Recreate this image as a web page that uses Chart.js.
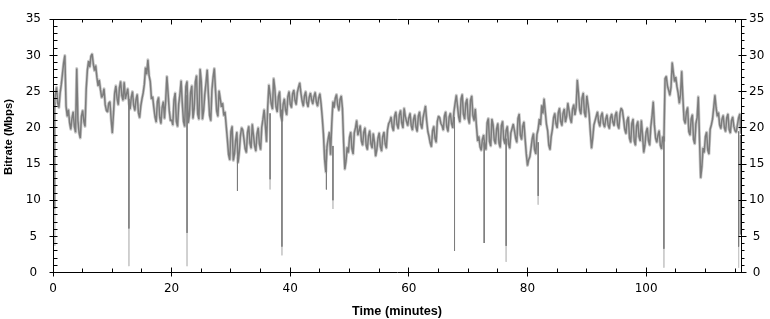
<!DOCTYPE html>
<html>
<head>
<meta charset="utf-8">
<style>
  html, body { margin: 0; padding: 0; background: #fff; }
  #chart { display: block; }
</style>
</head>
<body>
<canvas id="chart" width="770" height="319"></canvas>
<script src="https://cdn.jsdelivr.net/npm/chart.js@4/dist/chart.umd.min.js"></script>
<script>
// one reading every 0.2 minutes
const stepMinutes = 0.2;
const bitrate = [
  23.8, 22.9, 24.6, 25.6, 23.4, 22.8, 24.8, 26.0, 27.5, 29.0, 30.0, 23.0, 21.6, 22.5, 20.7, 19.8, 21.3, 22.2, 20.2, 19.4,
  28.2, 21.0, 19.3, 18.6, 21.6, 22.4, 20.9, 20.2, 25.4, 28.0, 29.2, 28.4, 29.9, 30.2, 28.8, 27.9, 28.6, 27.0, 25.8, 26.6,
  25.3, 24.2, 24.5, 25.4, 23.2, 22.4, 22.2, 23.4, 23.6, 21.2, 19.3, 22.0, 24.8, 25.8, 24.1, 23.2, 25.5, 26.4, 24.5, 23.8,
  26.3, 24.0, 24.7, 25.4, 23.4, 22.6, 24.2, 25.0, 23.1, 22.4, 23.9, 24.6, 22.1, 21.4, 23.0, 24.0, 24.8, 26.0, 28.3, 27.4,
  29.4, 27.2, 26.4, 24.0, 24.3, 22.8, 21.5, 20.8, 23.6, 24.2, 21.4, 20.6, 22.8, 23.6, 21.3, 23.8, 27.1, 24.8, 22.4, 21.0,
  21.1, 20.4, 23.9, 24.8, 20.9, 20.2, 23.3, 24.6, 26.5, 23.4, 20.9, 20.2, 25.7, 26.4, 20.7, 21.8, 24.9, 25.8, 21.3, 22.6,
  26.3, 27.2, 21.9, 21.2, 28.1, 26.4, 21.2, 22.4, 24.7, 26.2, 28.0, 24.6, 21.7, 21.0, 25.3, 27.0, 28.2, 25.2, 22.3, 21.6,
  25.1, 24.0, 22.9, 23.4, 21.7, 22.2, 20.3, 18.4, 16.3, 15.6, 19.5, 20.2, 15.5, 16.4, 18.3, 19.4, 15.2, 16.6, 18.9, 20.0,
  19.7, 18.4, 17.1, 16.6, 19.4, 20.2, 17.9, 17.2, 20.5, 19.0, 17.5, 16.8, 19.2, 20.0, 17.8, 17.0, 20.1, 21.2, 22.5, 20.4,
  18.1, 22.8, 25.9, 24.6, 23.3, 22.6, 26.8, 25.4, 22.9, 22.2, 24.3, 25.0, 21.7, 21.0, 23.2, 24.0, 22.5, 21.8, 24.3, 25.0,
  23.3, 22.8, 24.7, 25.2, 23.8, 23.2, 24.9, 25.6, 26.2, 24.8, 23.7, 23.0, 24.4, 25.0, 23.5, 22.9, 24.2, 24.8, 23.9, 23.3,
  24.3, 24.9, 23.6, 23.0, 24.1, 24.7, 23.3, 21.4, 19.1, 15.6, 13.9, 17.4, 18.5, 19.4, 16.3, 20.6, 23.6, 22.8, 24.1, 24.6,
  23.1, 22.4, 23.9, 24.4, 22.7, 18.0, 14.3, 15.4, 17.3, 16.6, 18.7, 19.4, 17.1, 16.4, 19.3, 20.0, 21.0, 19.0, 19.6, 20.3,
  18.2, 17.6, 19.4, 20.0, 17.6, 17.0, 18.9, 19.6, 17.8, 17.2, 19.2, 18.0, 16.1, 17.0, 18.6, 19.3, 17.4, 16.8, 18.8, 19.4,
  17.8, 17.2, 19.7, 20.6, 20.9, 21.5, 20.1, 19.6, 21.6, 22.2, 20.5, 19.9, 21.8, 22.4, 20.7, 20.0, 22.7, 21.6, 20.9, 20.3,
  21.4, 22.0, 20.3, 19.7, 21.2, 21.8, 20.1, 19.5, 21.6, 22.2, 20.5, 19.9, 21.4, 22.2, 23.0, 21.0, 19.5, 18.8, 17.9, 17.4,
  19.6, 20.2, 18.6, 18.0, 20.9, 21.6, 21.4, 20.6, 20.3, 19.7, 21.6, 22.2, 20.1, 19.5, 21.5, 22.0, 20.6, 20.0, 22.2, 23.4,
  24.5, 23.0, 21.5, 20.8, 24.0, 24.6, 21.9, 21.2, 23.4, 24.0, 21.3, 20.6, 23.8, 24.4, 21.7, 21.0, 22.6, 20.2, 18.2, 18.8,
  17.4, 16.9, 18.4, 19.0, 17.5, 17.0, 20.7, 21.3, 18.1, 17.5, 21.2, 20.4, 18.3, 17.8, 19.9, 20.6, 17.9, 17.3, 20.3, 20.9,
  18.4, 17.8, 19.6, 20.2, 17.8, 17.2, 19.3, 19.9, 20.5, 19.6, 18.6, 18.0, 21.3, 21.9, 19.0, 18.4, 20.2, 20.8, 18.5, 16.4,
  14.8, 15.6, 16.0, 17.2, 18.5, 19.2, 17.0, 16.4, 19.1, 19.8, 21.2, 20.4, 23.1, 22.0, 24.0, 22.2, 20.5, 19.6, 17.6, 17.0,
  18.8, 19.8, 21.4, 22.0, 20.6, 20.0, 22.1, 22.7, 20.9, 20.3, 22.0, 22.6, 20.8, 21.6, 23.4, 22.4, 21.3, 20.7, 22.6, 23.2,
  21.8, 22.8, 26.6, 24.8, 22.5, 21.9, 24.1, 24.8, 22.1, 21.5, 24.4, 23.2, 21.9, 19.4, 17.2, 18.6, 20.4, 21.0, 21.6, 22.2,
  20.8, 20.2, 21.6, 22.1, 20.6, 20.1, 21.2, 21.8, 20.4, 19.9, 21.4, 21.9, 20.8, 20.3, 21.7, 22.2, 20.4, 19.9, 22.0, 22.7,
  22.4, 21.2, 19.8, 19.2, 21.0, 21.5, 18.6, 18.0, 20.6, 21.2, 18.2, 17.6, 20.3, 20.9, 18.8, 18.2, 21.0, 19.0, 16.6, 17.6,
  19.4, 20.0, 18.2, 17.6, 20.2, 21.6, 23.6, 20.4, 18.6, 18.0, 19.0, 19.6, 17.6, 17.1, 18.8, 18.2, 26.8, 27.1, 25.8, 25.2,
  24.5, 25.6, 29.0, 27.6, 26.4, 27.0, 25.7, 24.8, 23.4, 24.6, 27.8, 24.2, 21.1, 20.6, 22.2, 22.8, 19.5, 19.0, 21.2, 21.8,
  18.4, 17.8, 20.6, 21.4, 24.3, 18.6, 13.1, 14.6, 17.2, 16.6, 18.8, 19.4, 16.9, 16.4, 19.8, 20.4, 21.2, 22.8, 24.5, 22.8,
  21.6, 22.1, 20.4, 19.9, 21.2, 21.7, 20.0, 19.5, 21.4, 21.9, 19.8, 19.3, 21.0, 21.5, 20.2, 19.6, 19.4, 20.4, 21.4, 21.9,
  19.2
];

// short dropouts: time, level before, darkest reading, faint tail
const dropMinutes = [0.3, 12.8, 22.6, 31.1, 36.6, 38.6, 46.1, 47.2, 67.7, 72.7, 76.4, 81.8, 103.0, 115.6, 115.9];
const dropFrom = [23.5, 24.0, 24.5, 16.0, 22.0, 22.5, 17.0, 17.5, 21.5, 18.0, 18.5, 18.0, 18.8, 19.5, 19.0];
const dropDark = [8.8, 6.1, 5.5, 11.3, 12.9, 3.6, 11.5, 10.0, 3.0, 4.1, 3.7, 10.6, 3.3, 3.6, 5.3];
const dropLight = [3.7, 0.9, 0.9, 11.3, 11.5, 2.4, 11.5, 8.8, 3.0, 4.1, 1.5, 9.4, 0.7, 0.7, 5.3];

const xTicks = [0, 20, 40, 60, 80, 100];
const xMinorTicks = [5, 10, 15, 25, 30, 35, 45, 50, 55, 65, 70, 75, 85, 90, 95, 105, 110, 115];
const yTicks = [0, 5, 10, 15, 20, 25, 30, 35];
const yMinorTicks = [1, 2, 3, 4, 6, 7, 8, 9, 11, 12, 13, 14, 16, 17, 18, 19, 21, 22, 23, 24, 26, 27, 28, 29, 31, 32, 33, 34];
const xMax = 116;
const yMax = 35;

const DARK = "#7c7c7c";
const LIGHT = "#cacaca";

const trace = bitrate.map((v, i) => ({ x: i * stepMinutes, y: v }));

function dropSegments(hi, lo) {
  const pts = [];
  dropMinutes.forEach((t, i) => {
    pts.push({ x: t, y: hi[i] }, { x: t, y: lo[i] }, { x: t, y: null });
  });
  return pts;
}

const tickFont = { family: "DejaVu Sans", size: 12 };

// frame with tick marks like the original plot, plus the rotated y title
const frameTicks = {
  id: "frameTicks",
  afterDraw(chart) {
    const ctx = chart.ctx;
    const xs = chart.scales.x;
    const ys = chart.scales.y;
    const p = (v) => Math.floor(v) + 0.5;
    const L = p(chart.chartArea.left), R = p(chart.chartArea.right);
    const T = p(chart.chartArea.top), B = p(chart.chartArea.bottom);
    ctx.save();
    ctx.strokeStyle = "#000";
    ctx.lineWidth = 1;
    ctx.beginPath();
    ctx.moveTo(L, T); ctx.lineTo(R, T); ctx.lineTo(R, B); ctx.lineTo(L, B); ctx.closePath();
    for (const v of xTicks) {
      const x = p(xs.getPixelForValue(v));
      ctx.moveTo(x, B - 5); ctx.lineTo(x, B + 4);
      ctx.moveTo(x, T); ctx.lineTo(x, T + 5);
    }
    for (const v of xMinorTicks) {
      const x = p(xs.getPixelForValue(v));
      ctx.moveTo(x, B - 4); ctx.lineTo(x, B);
      ctx.moveTo(x, T); ctx.lineTo(x, T + 3);
    }
    for (const v of yTicks) {
      const y = p(ys.getPixelForValue(v));
      ctx.moveTo(L - 4, y); ctx.lineTo(L + 4, y);
      ctx.moveTo(R - 3, y); ctx.lineTo(R + 5, y);
    }
    for (const v of yMinorTicks) {
      const y = p(ys.getPixelForValue(v));
      ctx.moveTo(L, y); ctx.lineTo(L + 4, y);
      ctx.moveTo(R, y); ctx.lineTo(R + 3, y);
    }
    ctx.stroke();

    ctx.translate(9.2, 137);
    ctx.rotate(-Math.PI / 2);
    ctx.fillStyle = "#000";
    ctx.font = "bold 11.3px 'Liberation Sans'";
    ctx.textAlign = "center";
    ctx.textBaseline = "middle";
    ctx.fillText("Bitrate (Mbps)", 0, 0);
    ctx.restore();
  },
};

new Chart(document.getElementById("chart"), {
  type: "line",
  data: {
    datasets: [
      { data: trace, borderColor: DARK, borderWidth: 1.5, borderJoinStyle: "bevel", order: 1 },
      { data: dropSegments(dropFrom, dropDark), borderColor: DARK, borderWidth: 1, spanGaps: false, order: 2 },
      { data: trace, borderColor: LIGHT, borderWidth: 3, borderJoinStyle: "round", order: 3 },
      { data: dropSegments(dropDark, dropLight), borderColor: LIGHT, borderWidth: 1, spanGaps: false, order: 4 },
    ],
  },
  options: {
    responsive: false,
    animation: false,
    devicePixelRatio: 1,
    layout: { padding: { top: 11, left: 0, right: 0, bottom: 0 } },
    elements: { point: { radius: 0 }, line: { tension: 0 } },
    scales: {
      x: {
        type: "linear",
        position: "bottom",
        min: 0,
        max: xMax,
        afterBuildTicks: (s) => { s.ticks = xTicks.map((v) => ({ value: v })); },
        afterFit: (s) => { s.height = 46.3; },
        grid: { display: false, drawTicks: false },
        border: { display: false },
        ticks: { font: tickFont, color: "#000", padding: 9, maxRotation: 0, autoSkip: false },
        title: {
          display: true,
          text: "Time (minutes)",
          color: "#000",
          font: { family: "Liberation Sans", size: 12.7, weight: "bold" },
          padding: { top: 0, bottom: 0 },
        },
      },
      y: {
        position: "left",
        min: 0,
        max: yMax,
        afterBuildTicks: (s) => { s.ticks = yTicks.map((v) => ({ value: v })); },
        afterFit: (s) => { s.width = 53; },
        grid: { display: false, drawTicks: false },
        border: { display: false },
        ticks: { font: tickFont, color: "#000", padding: 12, crossAlign: "center" },
      },
      y2: {
        position: "right",
        min: 0,
        max: yMax,
        afterBuildTicks: (s) => { s.ticks = yTicks.map((v) => ({ value: v })); },
        afterFit: (s) => { s.width = 29; },
        grid: { display: false, drawTicks: false },
        border: { display: false },
        ticks: { font: tickFont, color: "#000", padding: 8, crossAlign: "center" },
      },
    },
    plugins: { legend: { display: false }, tooltip: { enabled: false } },
  },
  plugins: [frameTicks],
});
</script>
</body>
</html>
